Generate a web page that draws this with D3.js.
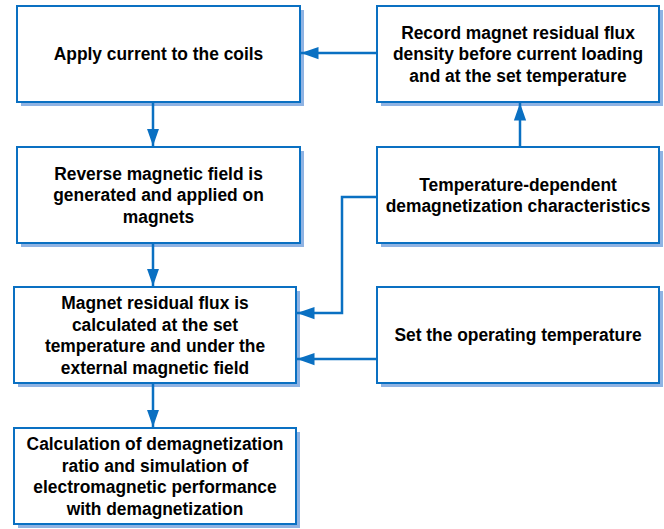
<!DOCTYPE html>
<html>
<head>
<meta charset="utf-8">
<script src="https://cdn.jsdelivr.net/npm/d3@7"></script>
<style>
  body { margin: 0; background: #fff; }
  svg { display: block; }
</style>
</head>
<body>
<svg id="chart"></svg>
<script>
// node labels (one entry per line)
const leftLabels = [
  ["Apply current to the coils"],
  ["Reverse magnetic field is", "generated and applied on", "magnets"],
  ["Magnet residual flux is", "calculated at the set", "temperature and under the", "external magnetic field"],
  ["Calculation of demagnetization", "ratio and simulation of", "electromagnetic performance", "with demagnetization"]
];
const rightLabels = [
  ["Record magnet residual flux", "density before current loading", "and at the set temperature"],
  ["Temperature-dependent", "demagnetization characteristics"],
  ["Set the operating temperature"]
];

const width = 664, height = 529;
const blue = "#0a70c2", shadow = "#8fb3e3";

const svg = d3.select("#chart").attr("width", width).attr("height", height);

// layout
const rowY = d3.scaleOrdinal().domain([0, 1, 2, 3]).range([6, 147, 287, 428]);
const boxH = 96;
const leftCols = [[17, 300], [17, 300], [14, 296], [14, 296]];
const rightCol = [377, 659];

const nodes = [];
leftLabels.forEach((lines, i) => nodes.push({ id: "L" + i, lines, x0: leftCols[i][0], x1: leftCols[i][1], y0: rowY(i), y1: rowY(i) + boxH }));
rightLabels.forEach((lines, i) => nodes.push({ id: "R" + i, lines, x0: rightCol[0], x1: rightCol[1], y0: rowY(i), y1: rowY(i) + boxH }));

const defs = svg.append("defs");
defs.append("marker")
  .attr("id", "arrow")
  .attr("viewBox", "0 0 10 10")
  .attr("refX", 10).attr("refY", 5)
  .attr("markerWidth", 7).attr("markerHeight", 7)
  .attr("orient", "auto")
  .attr("markerUnits", "strokeWidth")
  .append("path")
  .attr("d", "M0,1.5L10,5L0,8.5Z")
  .attr("fill", blue);

const g = svg.append("g");

// shadows
g.selectAll("rect.shadow")
  .data(nodes).enter().append("rect")
  .attr("class", "shadow")
  .attr("x", d => d.x0 + 4).attr("y", d => d.y0 + 4)
  .attr("width", d => d.x1 - d.x0).attr("height", d => d.y1 - d.y0)
  .attr("fill", shadow);

g.selectAll("rect.box")
  .data(nodes).enter().append("rect")
  .attr("class", "box")
  .attr("x", d => d.x0).attr("y", d => d.y0)
  .attr("width", d => d.x1 - d.x0).attr("height", d => d.y1 - d.y0)
  .attr("fill", "#fff")
  .attr("stroke", blue)
  .attr("stroke-width", 2);

const lineH = 21.5;
g.selectAll("text.label")
  .data(nodes).enter().append("text")
  .attr("class", "label")
  .attr("text-anchor", "middle")
  .attr("font-family", "Arial, 'Liberation Sans', sans-serif")
  .attr("font-weight", "bold")
  .attr("font-size", 19)
  .attr("fill", "#000")
  .attr("transform", d => `translate(${(d.x0 + d.x1) / 2},0) scale(0.915,1)`)
  .each(function (d) {
    const cy = (d.y0 + d.y1) / 2;
    const n = d.lines.length;
    d3.select(this).selectAll("tspan")
      .data(d.lines).enter().append("tspan")
      .attr("x", 0)
      .attr("y", (l, i) => cy + (i - (n - 1) / 2) * lineH + 6.5)
      .text(l => l);
  });

const byId = Object.fromEntries(nodes.map(d => [d.id, d]));
const L = byId, sp = 153;

const links = [
  [[L.R0.x0, 53], [L.L0.x1 + 1, 53]],
  [[sp, L.L0.y1], [sp, L.L1.y0 - 1]],
  [[sp, L.L1.y1], [sp, L.L2.y0 - 1]],
  [[sp, L.L2.y1], [sp, L.L3.y0 - 1]],
  [[520, L.R1.y0], [520, L.R0.y1 + 1]],
  [[L.R1.x0, 197], [342, 197], [342, 313], [L.L2.x1 + 1, 313]],
  [[L.R2.x0, 359], [L.L2.x1 + 1, 359]]
];

const line = d3.line();
g.selectAll("path.link")
  .data(links).enter().append("path")
  .attr("class", "link")
  .attr("d", line)
  .attr("fill", "none")
  .attr("stroke", blue)
  .attr("stroke-width", 2.5)
  .attr("marker-end", "url(#arrow)");
</script>
</body>
</html>
